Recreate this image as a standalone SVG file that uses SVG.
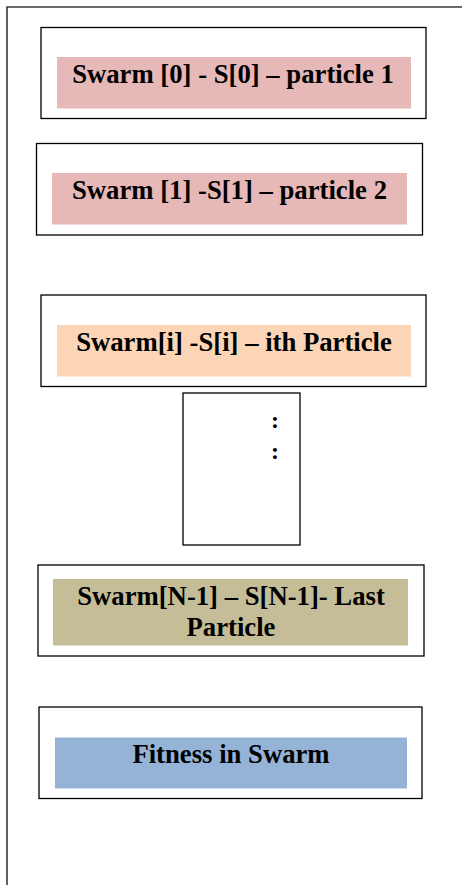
<svg xmlns="http://www.w3.org/2000/svg" width="462" height="885" viewBox="0 0 462 885">
<style>
.frame{fill:none;stroke:#3a3a3a;stroke-width:1.6}
.box{fill:#fff;stroke:#000;stroke-width:1.3}
.lbl{font-family:"Liberation Serif","Times New Roman",serif;font-weight:bold;font-size:26.7px;fill:#000;text-anchor:middle}
.dots{font-family:"Liberation Serif","Times New Roman",serif;font-weight:bold;font-size:24px;fill:#000;text-anchor:middle}
</style>
<rect width="462" height="885" fill="#fff"/>
<path class="frame" d="M7,885 V7 H462"/>
<g id="node-swarm0">
<rect class="box" x="41" y="27.5" width="385" height="91"/>
<rect x="57" y="57" width="354" height="51.5" fill="#E6B8B7"/>
<text class="lbl" x="233" y="82.7">Swarm [0] - S[0] – particle 1</text>
</g>
<g id="node-swarm1">
<rect class="box" x="36.5" y="143.5" width="386" height="91.5"/>
<rect x="52" y="173" width="355" height="51.5" fill="#E6B8B7"/>
<text class="lbl" x="229.5" y="199">Swarm [1] -S[1] – particle 2</text>
</g>
<g id="node-swarmi">
<rect class="box" x="41" y="295" width="385" height="91.5"/>
<rect x="57" y="325" width="354" height="51.5" fill="#FBD5B5"/>
<text class="lbl" x="234" y="350.5">Swarm[i] -S[i] – ith Particle</text>
</g>
<g id="node-ellipsis">
<rect class="box" x="183" y="393" width="117" height="152"/>
<text class="dots" x="275" y="428">:</text>
<text class="dots" x="275" y="459">:</text>
</g>
<g id="node-swarmN">
<rect class="box" x="38" y="565" width="386" height="91"/>
<rect x="53" y="579" width="355" height="66.5" fill="#C4BD97"/>
<text class="lbl" x="231" y="605">Swarm[N-1] – S[N-1]- Last</text>
<text class="lbl" x="231" y="636">Particle</text>
</g>
<g id="node-fitness">
<rect class="box" x="39" y="707" width="383" height="91.5"/>
<rect x="55" y="737.5" width="352" height="51" fill="#95B3D7"/>
<text class="lbl" x="231" y="762.5">Fitness in Swarm</text>
</g>
<g id="connectors"></g>
</svg>
